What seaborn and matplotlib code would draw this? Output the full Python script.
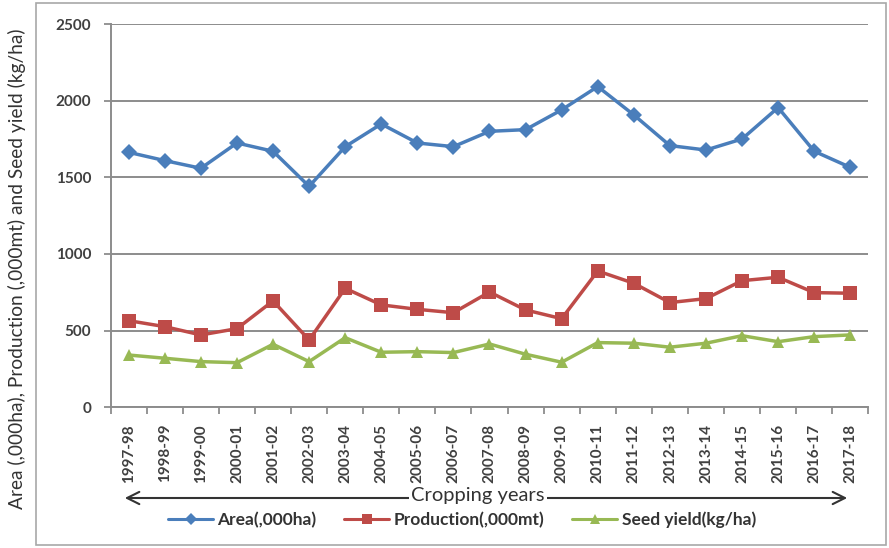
import numpy as np
import pandas as pd
import matplotlib
matplotlib.use("Agg")
import matplotlib.pyplot as plt
import seaborn as sns
from matplotlib.patches import Rectangle
from matplotlib.lines import Line2D

# Cropping years (x categories)
years = ["1997-98", "1998-99", "1999-00", "2000-01", "2001-02", "2002-03", "2003-04",
         "2004-05", "2005-06", "2006-07", "2007-08", "2008-09", "2009-10", "2010-11",
         "2011-12", "2012-13", "2013-14", "2014-15", "2015-16", "2016-17", "2017-18"]

# Series values
area = [1663, 1609, 1559, 1724, 1670, 1441, 1700, 1848, 1724, 1700, 1800,
        1811, 1940, 2092, 1907, 1707, 1678, 1750, 1955, 1670, 1565]
production = [565, 526, 472, 513, 694, 439, 776, 668, 639, 617, 752,
              635, 578, 889, 809, 683, 709, 826, 848, 748, 744]
seed_yield = [341, 320, 298, 291, 411, 298, 454, 359, 363, 357, 413,
              346, 294, 422, 418, 392, 418, 467, 428, 461, 472]

series_names = ["Area(,000ha)", "Production(,000mt)", "Seed yield(kg/ha)"]
y_ticks = [0, 500, 1000, 1500, 2000, 2500]

colors = ["#4A7EBB", "#BE4B48", "#98B954"]
markers = ["D", "s", "^"]
msizes = [8.5, 9.5, 9]

sns.set_theme(style="white")
plt.rcParams["font.family"] = ["Lato", "DejaVu Sans"]

df = pd.DataFrame({
    "year": years * 3,
    "value": area + production + seed_yield,
    "series": np.repeat(series_names, len(years)),
})

W, H = 889, 548
fig = plt.figure(figsize=(W / 100, H / 100), dpi=100)
ax = fig.add_axes([110.7 / W, 1 - 407.3 / H, (868.3 - 110.7) / W, (407.3 - 24) / H])

grey = "#8c8c8c"
ax.yaxis.grid(True, color=grey, lw=1.4, zorder=0)
ax.set_axisbelow(True)

for name, c, m, ms in zip(series_names, colors, markers, msizes):
    sub = df[df["series"] == name]
    sns.lineplot(data=sub, x="year", y="value", color=c, marker=m, markersize=ms,
                 markeredgewidth=0, lw=2.5, sort=False, legend=False, ax=ax, zorder=3)

ax.set_xlim(-0.5, len(years) - 0.5)
ax.set_ylim(0, 2500)
ax.set_yticks(y_ticks)
ax.set_yticklabels([str(v) for v in y_ticks], fontsize=11, fontweight="bold", color="#404040")
ax.set_xticks(range(len(years)))
ax.set_xticklabels(years, rotation=90, fontsize=11, fontweight="bold", color="#404040")
ax.set_xticks(np.arange(-0.5, len(years), 1), minor=True)
ax.tick_params(axis="x", which="major", length=0, pad=12)
ax.tick_params(axis="x", which="minor", length=5, width=1.3, color=grey, direction="out", bottom=True)
ax.tick_params(axis="y", which="major", length=5, width=1.3, color=grey, direction="out", pad=9, left=True)
ax.set_xlabel("")
ax.set_ylabel("")

for s in ["top", "right"]:
    ax.spines[s].set_visible(False)
for s in ["left", "bottom"]:
    ax.spines[s].set_color(grey)
    ax.spines[s].set_linewidth(1.4)

# Outer chart frame
fig.add_artist(Rectangle((36 / W, 3 / H), (886 - 36) / W, (545 - 3) / H,
                         transform=fig.transFigure, fill=False, ec="#a8a8a8", lw=1.2))

# Y axis title
fig.text(17 / W, 1 - 269 / H, "Area (,000ha), Production (,000mt) and Seed yield (kg/ha)",
         rotation=90, ha="center", va="center", fontsize=13.8, color="#333333")

# Double-headed arrow with the x axis title
ay = 1 - 498 / H
ax.annotate("", xy=(850 / W, ay), xytext=(122 / W, ay), xycoords="figure fraction",
            textcoords="figure fraction", annotation_clip=False,
            arrowprops=dict(arrowstyle="<->", lw=1.5, color="#333333", mutation_scale=22))
fig.text(478 / W, 1 - 496 / H, "Cropping years", ha="center", va="center", fontsize=14.5,
         color="#333333", bbox=dict(fc="white", ec="none", pad=1.5), zorder=5)

# Legend
handles = [Line2D([0], [0], color=c, lw=2.2, marker=m, markersize=ms * 0.75, markeredgewidth=0)
           for c, m, ms in zip(colors, markers, msizes)]
leg = fig.legend(handles, series_names, loc="center", bbox_to_anchor=(462 / W, 1 - 520 / H),
                 ncol=3, frameon=False, handlelength=2.6, columnspacing=1.6, handletextpad=0.25,
                 prop=dict(weight="bold", size=12.5))
for t in leg.get_texts():
    t.set_color("#333333")

fig.savefig("out.png", dpi=100)
